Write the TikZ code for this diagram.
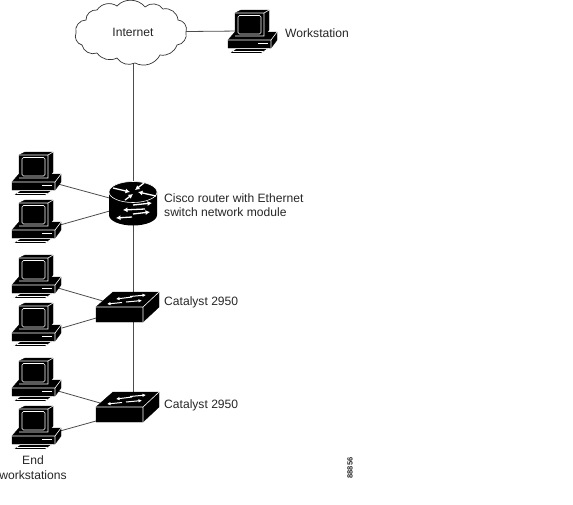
\documentclass[tikz,border=0pt]{standalone}
\usepackage{fontspec}
\setmainfont{Liberation Sans}
\usetikzlibrary{arrows.meta}
\tikzset{
  link/.style={line width=0.8pt,black!70},
  lbl/.style={font=\fontsize{12.1}{14.2}\selectfont,inner sep=0pt,text=black!85},
  whiteline/.style={white,line width=0.6pt},
  whitearrow/.style={white,line width=1.3pt,-{Latex[length=4.5pt,width=5pt]}},
  smallarrow/.style={white,line width=1pt,-{Latex[length=3.5pt,width=3.5pt]}},
  pics/pcbox/.style={code={
    \draw[black,fill=black] (0,30)--(7,22)--(49,22)--(49,30)--(43,38)--(0,38)--cycle;
    \draw[black,fill=black] (7,3)--(13,0)--(41,0)--(41,20)--(36,26)--(7,26)--cycle;
    \draw[whiteline] (7,26)--(36,26)--(36,3)--(41,0) (36,3)--(7,3);
    \draw[whiteline,rounded corners=1.5pt] (10,5.5) rectangle (33,24);
    \draw[whiteline] (0,30)--(43,30)--(49,22) (43,30)--(43,38);
    \draw[whiteline] (30,33.5)--(40,33.5);
    \draw[white,line width=0.7pt,fill=black] (1,43.5)--(33,43.5)--(40,38.6)--(8,38.6)--cycle;
    \draw[whiteline] (5,41)--(35,41);
  }},
  pics/switchbox/.style={code={
    \draw[black,fill=black] (0,15)--(17,0)--(63,0)--(63,15)--(47,30)--(0,30)--cycle;
    \draw[whiteline] (0,15)--(47,15)--(63,0) (47,15)--(47,30);
    \draw[smallarrow] (34,4.5)--(50,3);
    \draw[smallarrow] (36,5)--(20,7);
    \draw[smallarrow] (30,10)--(46,8.5);
    \draw[smallarrow] (26,10.5)--(11,12);
  }}
}
\begin{document}
\begin{tikzpicture}[x=1pt,y=-1pt]
  \useasboundingbox (0,0) rectangle (573,504);
  \coordinate (cloudhub) at (133.5,32);
  \coordinate (wsport) at (240,31);
  \coordinate (routerhub) at (133.5,205);
  \coordinate (switchA) at (133.5,307);
  \coordinate (switchB) at (133.5,408);
  \coordinate (pcA) at (58,184);
  \coordinate (pcB) at (60,225);
  \coordinate (pcC) at (58,288);
  \coordinate (pcD) at (62,328);
  \coordinate (pcE) at (58,391);
  \coordinate (pcF) at (60,431);
  \coordinate (portA) at (115,199.5);
  \coordinate (portB) at (115,209.5);
  \coordinate (portC) at (105,301.6);
  \coordinate (portD) at (105,315.4);
  \coordinate (portE) at (105,404.4);
  \coordinate (portF) at (105,418.5);
  \draw[link] (cloudhub)--(routerhub)--(switchA)--(switchB);
  \draw[link] (cloudhub)--(wsport);
  \draw[link] (pcA)--(portA);
  \draw[link] (pcB)--(portB);
  \draw[link] (pcC)--(portC);
  \draw[link] (pcD)--(portD);
  \draw[link] (pcE)--(portE);
  \draw[link] (pcF)--(portF);
  \draw[black!80,line width=0.7pt,fill=white] (76,33) to[bend left=55] (86,20) to[bend left=50] (97,10) to[bend left=45] (117,6) to[bend left=50] (145,7) to[bend left=50] (163,9) to[bend left=50] (178,20) to[bend left=55] (186,32) to[bend left=50] (177,45) to[bend left=40] (160,55) to[bend left=45] (135,63) to[bend left=40] (117,58) to[bend left=40] (97,53) to[bend left=50] (82,45) to[bend left=50] cycle;
  \node[lbl] (internet) at (133,32) {Internet};
  \pic at (228,10) {pcbox};
  \pic at (12,152) {pcbox};
  \pic at (12,200) {pcbox};
  \pic at (12,255) {pcbox};
  \pic at (12,303) {pcbox};
  \pic at (12,358) {pcbox};
  \pic at (12,406) {pcbox};
  \fill[black] (109,192)--(109,215) arc[start angle=180,end angle=0,x radius=24,y radius=10.5]--(157,192)--cycle;
  \draw[white,line width=0.6pt,fill=black] (133,192) ellipse[x radius=24,y radius=10.5];
  \draw[whitearrow] (113,188)--(130,192);
  \draw[whitearrow] (144,183)--(135,190);
  \draw[whitearrow] (156,196)--(138,192);
  \draw[whitearrow] (125,200)--(133,194);
  \draw[whitearrow] (133,205)--(152,203);
  \draw[whitearrow] (145,209)--(123,210);
  \draw[whitearrow] (133,214)--(150,212);
  \draw[whitearrow] (132,217)--(116,218);
  \pic at (96,292) {switchbox};
  \pic at (96,392) {switchbox};
  \node[lbl,anchor=west] (wslabel) at (285,33) {Workstation};
  \node[lbl,anchor=west,align=left] (routerlabel) at (164,205) {Cisco router with Ethernet\\switch network module};
  \node[lbl,anchor=west] (catalystA) at (164,302.5) {Catalyst 2950};
  \node[lbl,anchor=west] (catalystB) at (164,405.5) {Catalyst 2950};
  \node[lbl,align=center,font=\fontsize{12.1}{15}\selectfont] (endlabel) at (33,468) {End\\workstations};
  \node[lbl,rotate=90,font=\bfseries\fontsize{7.5}{9}\selectfont] (figcode) at (350,468) {88856};
\end{tikzpicture}
\end{document}
